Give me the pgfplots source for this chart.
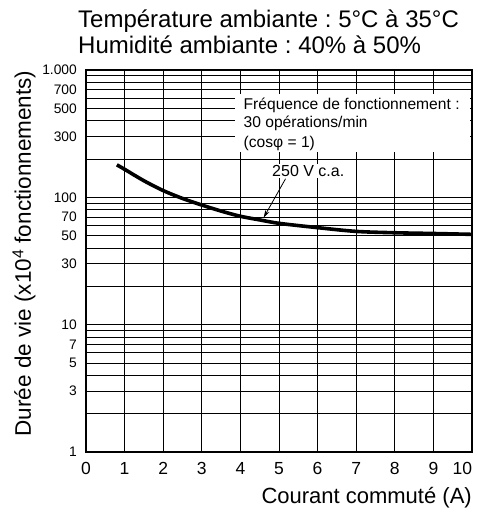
\documentclass[border=0pt]{standalone}
\usepackage{fontspec}
\setmainfont{Liberation Sans}
\usepackage{pgfplots}
\pgfplotsset{compat=1.18}
\usetikzlibrary{arrows.meta}
\begin{document}
\frenchspacing
\begin{tikzpicture}
\path[use as bounding box] (-86pt,-61pt) rectangle (391pt,452pt);
\begin{axis}[
  scale only axis, width=386pt, height=382pt,
  ymode=log, xmin=0, xmax=10, ymin=1, ymax=1000,
  xtick={0,1,2,3,4,5,6,7,8,9,10},
  xticklabels={0,1,2,3,4,5,6,7,8,9,\makebox[0pt][r]{10}},
  ytick={1,3,5,7,10,30,50,70,100,300,500,700,1000},
  yticklabels={1,3,5,7,10,30,50,70,100,300,500,700,1.000},
  minor ytick={2,4,6,8,9,20,40,60,80,90,200,400,600,800,900},
  grid=both,
  major grid style={black, line width=0.9pt},
  minor grid style={black, line width=0.9pt},
  major tick length=0pt, minor tick length=0pt,
  axis line style={black, line width=1.7pt},
  xticklabel style={font=\fontsize{17.5}{17.5}\selectfont\frenchspacing, anchor=base, inner sep=0pt, yshift=-22pt},
  yticklabel style={font=\fontsize{13.8}{13.8}\selectfont, anchor=east, inner sep=0pt, xshift=-9pt},
  xlabel={Courant commuté (A)},
  xlabel style={at={(axis description cs:1,0)}, anchor=base east, inner sep=0pt, yshift=-51.3pt, font=\fontsize{22}{22}\selectfont\frenchspacing},
  ylabel={Durée de vie (x10\textsuperscript{4} fonctionnements)},
  ylabel style={at={(axis description cs:-0.1425,0.5196)}, anchor=base, inner sep=0pt, font=\fontsize{22.5}{22.5}\selectfont\frenchspacing},
]
\addplot[black, line width=3.6pt, smooth, no marks] coordinates {
(0.8,180) (1,166) (1.5,135) (2,113) (2.5,98) (3,87) (3.5,78) (4,71) (4.5,66.5) (5,62.5) (6,57.8) (7,54) (8,52.7) (9,52) (10,51.2)};
\fill[white] (axis cs:3.87,227) rectangle (axis cs:9.96,649);
\node[anchor=base west, inner sep=0pt, font=\fontsize{15.6}{15.6}\selectfont\frenchspacing] at (axis cs:4.08,492) {Fréquence de fonctionnement :};
\node[anchor=base west, inner sep=0pt, font=\fontsize{15.6}{15.6}\selectfont] at (axis cs:4.08,353) {30 opérations/min};
\node[anchor=base west, inner sep=0pt, font=\fontsize{15.6}{15.6}\selectfont] at (axis cs:4.08,246) {(cosφ = 1)};
\draw[-{Stealth[length=8pt,width=4.5pt]}, line width=0.8pt] (axis cs:5.17,140) -- (axis cs:4.6,69);
\node[anchor=base west, inner sep=1.5pt, fill=white, font=\fontsize{16}{16}\selectfont] at (axis cs:4.78,145.5) {250 V c.a.};
\end{axis}
\node[anchor=base west, inner sep=0pt, font=\fontsize{24}{26}\selectfont\frenchspacing] at (-8pt,424.5pt) {Température ambiante : 5°C à 35°C};
\node[anchor=base west, inner sep=0pt, font=\fontsize{24}{26}\selectfont\frenchspacing] at (-8pt,398.5pt) {Humidité ambiante : 40\% à 50\%};
\end{tikzpicture}
\end{document}
